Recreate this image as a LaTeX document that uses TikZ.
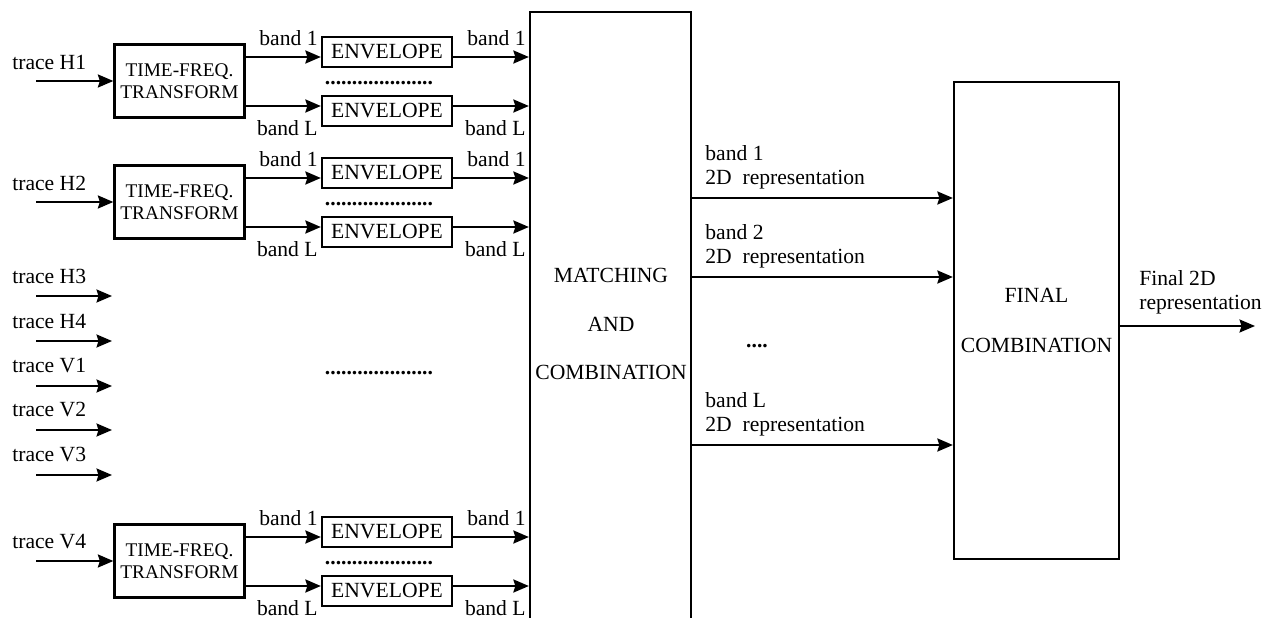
\documentclass[tikz,border=0pt]{standalone}
\usepackage{fontspec}
\setmainfont{Liberation Serif}
\usepackage{tikz}
\usetikzlibrary{arrows.meta}

\begin{document}
\begin{tikzpicture}[x=0.02cm, y=-0.02cm, >={Stealth[length=3.1mm, width=2.6mm, inset=0.4mm]},
	font=\fontsize{12.3}{13.6}\selectfont,
	box/.style={draw, line width=1.3pt, inner sep=0pt},
	tfbox/.style={box, minimum width=2.6cm, minimum height=1.46cm, align=center, font=\fontsize{11}{12.5}\selectfont},
	envbox/.style={box, minimum width=2.6cm, minimum height=0.6cm},
	lbl/.style={inner sep=0pt},
	dotrow/.style={inner sep=0pt, font=\bfseries\fontsize{12.3}{13.6}\selectfont},
	flow/.style={->, line width=1.3pt}]
	\useasboundingbox (0,0) rectangle (1268,618);
	\node[box, minimum width=3.22cm, minimum height=12.16cm] (match) at (610.5,316) {};
	\node[lbl, align=center, font=\fontsize{12.3}{27.8}\selectfont] (matchtxt) at (611,324) {MATCHING\\AND\\COMBINATION};
	\node[box, minimum width=3.3cm, minimum height=9.54cm, align=center, font=\fontsize{12.3}{28.4}\selectfont] (final) at (1036.5,320.5) {FINAL\\COMBINATION};
	\foreach \c/\n/\t in {81/1/H1, 202/2/H2, 561/3/V4} {
		\node[tfbox] (tf\n) at (179.5,\c) {TIME-FREQ.\\TRANSFORM};
		\coordinate (in\n) at (36,\c);
		\node[lbl, anchor=west] (tr\n) at (12,\c-19) {trace \t};
		\draw[flow] (in\n) -- (tf\n);
		\node[envbox] (enva\n) at (387,\c-29) {ENVELOPE};
		\node[envbox] (envb\n) at (387,\c+30) {ENVELOPE};
		\node[dotrow] (dots\n) at (379,\c+2) {....................};
		\draw[flow] (tf\n.east |- 0,\c-24) -- (enva\n.west |- 0,\c-24);
		\draw[flow] (tf\n.east |- 0,\c+25) -- (envb\n.west |- 0,\c+25);
		\draw[flow] (enva\n.east |- 0,\c-24) -- (match.west |- 0,\c-24);
		\draw[flow] (envb\n.east |- 0,\c+25) -- (match.west |- 0,\c+25);
		\node[lbl, anchor=east] (bandai\n) at (318,\c-43) {band 1};
		\node[lbl, anchor=east] (bandli\n) at (318,\c+47) {band L};
		\node[lbl, anchor=east] (bandao\n) at (526,\c-43) {band 1};
		\node[lbl, anchor=east] (bandlo\n) at (526,\c+47) {band L};
	}
	\foreach \y/\t in {296/H3, 341/H4, 386/V1, 430/V2, 475/V3} {
		\coordinate (s\t) at (36,\y);
		\coordinate (e\t) at (112,\y);
		\node[lbl, anchor=west] (tr\t) at (12,\y-20) {trace \t};
		\draw[flow] (s\t) -- (e\t);
	}
	\node[dotrow] (middots) at (379,373) {....................};
	\foreach \y/\b/\k in {198/1/1, 277/2/2, 445/L/3} {
		\draw[flow] (match.east |- 0,\y) -- (final.west |- 0,\y);
		\node[lbl, anchor=south west, align=left] (rep\k) at (705,\y-9) {band \b\\2D\ \ representation};
	}
	\node[dotrow] (repdots) at (757,346) {....};
	\coordinate (out) at (1255,326);
	\draw[flow] (final.east |- 0,326) -- (out);
	\node[lbl, anchor=south west, align=left] (finalrep) at (1139,314) {Final 2D\\representation};
\end{tikzpicture}
\end{document}
